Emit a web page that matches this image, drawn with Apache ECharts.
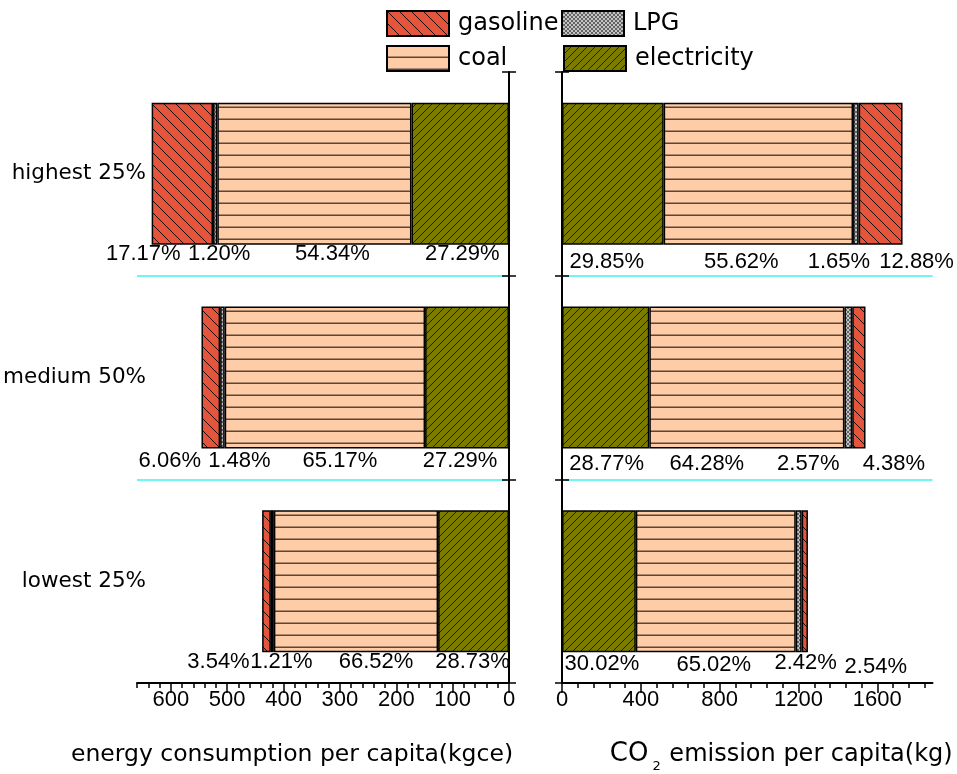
<!DOCTYPE html>
<html><head><meta charset="utf-8">
<script src="https://cdn.jsdelivr.net/npm/echarts@6/dist/echarts.min.js"></script>
<style>html,body{margin:0;padding:0;background:#fff}#c{width:957px;height:774px}</style>
</head><body><div id="c"></div>
<script>
// ---------- data ----------
const groups = ['highest 25%', 'medium 50%', 'lowest 25%'];
const fuels = ['electricity', 'coal', 'LPG', 'gasoline'];

// energy consumption per capita (kgce)
const energyElectricity = [173.0, 148.9, 125.8];
const energyCoal        = [344.5, 355.5, 291.4];
const energyLPG         = [7.6, 8.1, 5.3];
const energyGasoline    = [108.9, 33.1, 15.5];
const energyElectricityPct = ['27.29%', '27.29%', '28.73%'];
const energyCoalPct        = ['54.34%', '65.17%', '66.52%'];
const energyLPGPct         = ['1.20%', '1.48%', '1.21%'];
const energyGasolinePct    = ['17.17%', '6.06%', '3.54%'];

// CO2 emission per capita (kg)
const co2Electricity = [515.8, 443.1, 374.6];
const co2Coal        = [961.1, 989.9, 811.4];
const co2LPG         = [28.5, 39.6, 30.2];
const co2Gasoline    = [222.6, 67.5, 31.7];
const co2ElectricityPct = ['29.85%', '28.77%', '30.02%'];
const co2CoalPct        = ['55.62%', '64.28%', '65.02%'];
const co2LPGPct         = ['1.65%', '2.57%', '2.42%'];
const co2GasolinePct    = ['12.88%', '4.38%', '2.54%'];

const energyTicks = [0, 100, 200, 300, 400, 500, 600];
const co2Ticks = [0, 400, 800, 1200, 1600];
const energyMax = 660;
const co2Max = 1880;

// ---------- layout (label shifts, px) ----------
const energyShift = {
  electricity: [[2, -2], [-7, 1], [-1, -1]],
  coal:        [[18, -2], [15, 1], [20, -1]],
  LPG:         [[4, -2], [17, 1], [9, -1]],
  gasoline:    [[-39, -2], [-41, 1], [-48, -1]]
};
const co2Shift = {
  electricity: [[-6, 6], [1, 4], [3, 1]],
  coal:        [[-17, 6], [-40, 4], [-2, 2]],
  LPG:         [[-17, 6], [-40, 4], [7, 0]],
  gasoline:    [[36, 6], [35, 4], [71, 4]]
};
const co2MinorTicks = [];
for (let v = 0; v <= 1840; v += 80) co2MinorTicks.push(v);

// ---------- patterns ----------
function makePattern(w, h, bg, draw) {
  const c = document.createElement('canvas');
  c.width = w; c.height = h;
  const ctx = c.getContext('2d');
  ctx.fillStyle = bg; ctx.fillRect(0, 0, w, h);
  draw(ctx);
  return { image: c, repeat: 'repeat' };
}
const patterns = {
  gasoline: makePattern(12, 12, '#E4553B', ctx => {
    ctx.strokeStyle = '#1a0a05'; ctx.lineWidth = 1;
    ctx.beginPath();
    ctx.moveTo(-2, -2); ctx.lineTo(14, 14);
    ctx.moveTo(-2, 10); ctx.lineTo(2, 14);
    ctx.moveTo(10, -2); ctx.lineTo(14, 2);
    ctx.stroke();
  }),
  electricity: makePattern(8, 8, '#7B7B00', ctx => {
    ctx.strokeStyle = '#1a1a00'; ctx.lineWidth = 0.9;
    ctx.beginPath();
    ctx.moveTo(-1, 9); ctx.lineTo(9, -1);
    ctx.moveTo(-1, 1); ctx.lineTo(1, -1);
    ctx.moveTo(7, 9); ctx.lineTo(9, 7);
    ctx.stroke();
  }),
  coal: makePattern(6, 12, '#FFCCA8', ctx => {
    ctx.fillStyle = '#5a4536'; ctx.fillRect(0, 10.5, 6, 1.5);
  }),
  LPG: makePattern(4, 4, '#C4C4C4', ctx => {
    ctx.strokeStyle = '#3a3a3a'; ctx.lineWidth = 0.7;
    ctx.beginPath();
    ctx.moveTo(0, 0); ctx.lineTo(4, 4);
    ctx.moveTo(4, 0); ctx.lineTo(0, 4);
    ctx.stroke();
  })
};

// ---------- series ----------
function makeSeries(name, values, pcts, shifts, xi, yi, stack) {
  return {
    name, type: 'bar', stack, xAxisIndex: xi, yAxisIndex: yi, barWidth: 142,
    itemStyle: { color: patterns[name], borderColor: '#000', borderWidth: 1.5 },
    emphasis: { disabled: true },
    label: { show: true, position: 'bottom', distance: 0, color: '#000',
             fontSize: 22, fontFamily: 'Liberation Sans' },
    data: values.map((v, i) => ({ value: v, label: { formatter: pcts[i], offset: shifts[i] } }))
  };
}
const series = [
  makeSeries('electricity', energyElectricity, energyElectricityPct, energyShift.electricity, 0, 0, 'E'),
  makeSeries('coal', energyCoal, energyCoalPct, energyShift.coal, 0, 0, 'E'),
  makeSeries('LPG', energyLPG, energyLPGPct, energyShift.LPG, 0, 0, 'E'),
  makeSeries('gasoline', energyGasoline, energyGasolinePct, energyShift.gasoline, 0, 0, 'E'),
  makeSeries('electricity', co2Electricity, co2ElectricityPct, co2Shift.electricity, 1, 1, 'C'),
  makeSeries('coal', co2Coal, co2CoalPct, co2Shift.coal, 1, 1, 'C'),
  makeSeries('LPG', co2LPG, co2LPGPct, co2Shift.LPG, 1, 1, 'C'),
  makeSeries('gasoline', co2Gasoline, co2GasolinePct, co2Shift.gasoline, 1, 1, 'C')
];

// ---------- legends ----------
const legendPos = { gasoline: [386, 10], LPG: [561, 10], coal: [386, 45], electricity: [563, 45] };
const legends = fuels.map(f => ({
  data: [f], left: legendPos[f][0], top: legendPos[f][1], padding: 0,
  itemWidth: 62, itemHeight: 25, icon: 'rect',
  itemStyle: { borderColor: '#000', borderWidth: 2 },
  textStyle: { fontFamily: 'DejaVu Sans', fontSize: 24, color: '#000', padding: [0, 0, 0, 4] }
}));

const black = { color: '#000', width: 2 };
const gridBox = () => [
  { left: 137, right: 448, top: 72, bottom: 91, outerBoundsMode: 'none' },
  { left: 562, right: 24.5, top: 72, bottom: 91, outerBoundsMode: 'none' }
];
const cyanSplit = () => ({ show: true, showMinLine: false, showMaxLine: false,
                    lineStyle: { color: '#40F0F0', width: 1.5, opacity: 1 } });
const tickLabel = () => ({ fontFamily: 'Liberation Sans', fontSize: 22, color: '#000', margin: 6 });

const option = {
  animation: false,
  backgroundColor: '#fff',
  legend: legends,
  grid: gridBox().concat(gridBox()),
  xAxis: [
    { gridIndex: 0, type: 'value', inverse: true, min: 0, max: energyMax, interval: 20,
      axisLine: { show: true, lineStyle: black },
      axisTick: { show: true, length: 5, lineStyle: { color: '#000', width: 1.5 } },
      axisLabel: { show: false }, splitLine: { show: false },
      name: 'energy consumption per capita(kgce)', nameLocation: 'middle', nameGap: 60,
      nameTextStyle: { fontFamily: 'DejaVu Sans', fontSize: 23.5, color: '#000', padding: [0, 62, 0, 0] } },
    { gridIndex: 1, type: 'value', min: 0, max: co2Max, interval: 80,
      axisLine: { show: true, lineStyle: black },
      axisTick: { show: true, length: 5, customValues: co2MinorTicks, lineStyle: { color: '#000', width: 1.5 } },
      axisLabel: { show: false }, splitLine: { show: false },
      name: '{big|CO}{sub|2} emission per capita(kg)', nameLocation: 'middle', nameGap: 53,
      nameTextStyle: { fontFamily: 'DejaVu Sans', fontSize: 24, color: '#000', padding: [0, 0, 0, 68],
        rich: {
          big: { fontFamily: 'DejaVu Sans', fontSize: 26, color: '#000' },
          sub: { fontFamily: 'DejaVu Sans', fontSize: 13, color: '#000', padding: [24, 1, 0, 4] }
        } } },
    { gridIndex: 2, type: 'value', inverse: true, min: 0, max: energyMax,
      axisLine: { show: false },
      axisTick: { show: true, length: 10, customValues: energyTicks, lineStyle: { color: '#000', width: 1.5 } },
      axisLabel: Object.assign({ customValues: energyTicks, formatter: v => String(v) }, tickLabel()),
      splitLine: { show: false } },
    { gridIndex: 3, type: 'value', min: 0, max: co2Max,
      axisLine: { show: false },
      axisTick: { show: true, length: 10, customValues: co2Ticks, lineStyle: { color: '#000', width: 1.5 } },
      axisLabel: Object.assign({ customValues: co2Ticks, formatter: v => String(v) }, tickLabel()),
      splitLine: { show: false } }
  ],
  yAxis: [
    { gridIndex: 0, type: 'category', data: groups, inverse: true, position: 'right',
      axisLine: { show: true, lineStyle: black },
      axisTick: { show: true, length: 7, lineStyle: { color: '#000', width: 1.5 } },
      axisLabel: { show: false }, splitLine: { show: false } },
    { gridIndex: 1, type: 'category', data: groups, inverse: true, position: 'left',
      axisLine: { show: true, lineStyle: black },
      axisTick: { show: true, length: 7, lineStyle: { color: '#000', width: 1.5 } },
      axisLabel: { show: false }, splitLine: { show: false } },
    { gridIndex: 0, type: 'category', data: groups, inverse: true, position: 'left', offset: -9,
      axisLine: { show: false }, axisTick: { show: false }, splitLine: { show: false },
      axisLabel: { margin: 0, fontFamily: 'DejaVu Sans', fontSize: 21.5, color: '#000' } },
    { gridIndex: 2, type: 'category', data: groups, inverse: true, position: 'right',
      axisLine: { show: false }, splitLine: cyanSplit(), axisLabel: { show: false },
      axisTick: { show: true, inside: true, length: 7, lineStyle: { color: '#000', width: 1.5 } } },
    { gridIndex: 3, type: 'category', data: groups, inverse: true, position: 'left',
      axisLine: { show: false }, splitLine: cyanSplit(), axisLabel: { show: false },
      axisTick: { show: true, inside: true, length: 7, lineStyle: { color: '#000', width: 1.5 } } }
  ],
  series
};
const chart = echarts.init(document.getElementById('c'), null, { renderer: 'canvas' });
chart.setOption(option);
</script>
</body></html>
